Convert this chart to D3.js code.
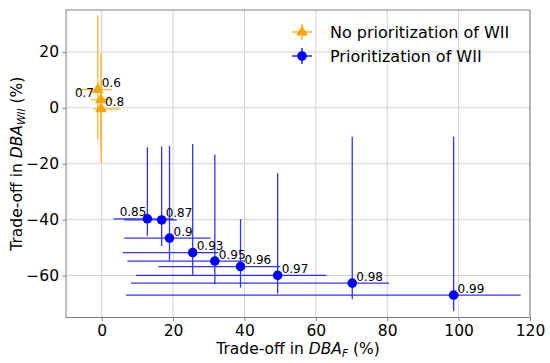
<!DOCTYPE html>
<html>
<head>
<meta charset="utf-8">
<script src="https://cdn.jsdelivr.net/npm/d3@7"></script>
<style>
  body { margin: 0; background: #fff; }
  text { font-family: "DejaVu Sans", sans-serif; fill: #000; }
</style>
</head>
<body>
<div class="chart"></div>
<script>
  // orange series: no prioritization of WII
  var noPrioLabels = ["0.6", "0.7", "0.8"],
      noPrioX = [-1.1, -0.2, -0.2],
      noPrioY = [6.5, 2.9, -0.4],
      noPrioXLo = [-7.0, -3.2, -2.4],
      noPrioXHi = [2.8, 3.2, 5.2],
      noPrioYLo = [-11.7, -15.0, -19.6],
      noPrioYHi = [33.1, 19.5, 9.8];

  // blue series: prioritization of WII
  var prioLabels = ["0.85", "0.87", "0.9", "0.93", "0.95", "0.96", "0.97", "0.98", "0.99"],
      prioX = [12.8, 16.8, 19.0, 25.5, 31.7, 38.9, 49.3, 70.2, 98.6],
      prioY = [-39.7, -40.1, -46.6, -51.8, -54.8, -56.8, -59.9, -62.7, -67.0],
      prioXLo = [3.3, 6.3, 6.3, 5.9, 7.2, 15.9, 9.6, 8.2, 6.8],
      prioXHi = [20.0, 21.0, 30.5, 32.6, 40.2, 50.0, 62.9, 80.5, 117.4],
      prioYLo = [-45.8, -49.4, -54.7, -59.7, -63.1, -64.3, -66.4, -68.5, -72.7],
      prioYHi = [-14.1, -13.9, -13.6, -12.9, -16.7, -39.8, -23.4, -10.3, -10.3];

  // labels written to the left of their point
  var leftLabels = ["0.7", "0.85"];

  var xTicks = [0, 20, 40, 60, 80, 100, 120],
      yTicks = [-60, -40, -20, 0, 20];

  var margin = {top: 10, right: 20, bottom: 45.5, left: 66},
      width = 550 - margin.left - margin.right,
      height = 363 - margin.top - margin.bottom;

  var x = d3.scaleLinear().domain([-10, 120]).range([0, width]);
  var y = d3.scaleLinear().domain([-75, 35]).range([height, 0]);

  var svg = d3.select('.chart')
      .append('svg')
      .attr('width', 550)
      .attr('height', 363)
      .append('g')
      .attr('transform', 'translate(' + margin.left + ',' + margin.top + ')');

  // grid
  svg.append('g').selectAll('line')
      .data(xTicks)
      .enter().append('line')
      .attr('x1', function(d) { return x(d); })
      .attr('x2', function(d) { return x(d); })
      .attr('y1', 0).attr('y2', height)
      .attr('stroke', '#d3d3d3').attr('stroke-width', 1);

  svg.append('g').selectAll('line')
      .data(yTicks)
      .enter().append('line')
      .attr('y1', function(d) { return y(d); })
      .attr('y2', function(d) { return y(d); })
      .attr('x1', 0).attr('x2', width)
      .attr('stroke', '#d3d3d3').attr('stroke-width', 1);

  function toRows(labels, xs, ys, xlo, xhi, ylo, yhi) {
    return labels.map(function(l, i) {
      return {label: l, x: xs[i], y: ys[i], xlo: xlo[i], xhi: xhi[i], ylo: ylo[i], yhi: yhi[i]};
    });
  }

  var noPrio = toRows(noPrioLabels, noPrioX, noPrioY, noPrioXLo, noPrioXHi, noPrioYLo, noPrioYHi);
  var prio = toRows(prioLabels, prioX, prioY, prioXLo, prioXHi, prioYLo, prioYHi);

  function drawBars(rows, color) {
    var g = svg.append('g').attr('stroke', color).attr('stroke-width', 1.3).attr('opacity', 0.8);
    g.selectAll('.v').data(rows).enter().append('line')
        .attr('x1', function(d) { return x(d.x); })
        .attr('x2', function(d) { return x(d.x); })
        .attr('y1', function(d) { return y(d.ylo); })
        .attr('y2', function(d) { return y(d.yhi); });
    g.selectAll('.h').data(rows).enter().append('line')
        .attr('y1', function(d) { return y(d.y); })
        .attr('y2', function(d) { return y(d.y); })
        .attr('x1', function(d) { return x(d.xlo); })
        .attr('x2', function(d) { return x(d.xhi); });
  }

  function drawLabels(rows) {
    svg.append('g').selectAll('text')
        .data(rows)
        .enter().append('text')
        .attr('x', function(d) { return x(d.x) + (leftLabels.indexOf(d.label) >= 0 ? (d.label == '0.7' ? -7 : -1) : 4); })
        .attr('y', function(d) { return y(d.y) - 2.5; })
        .attr('text-anchor', function(d) { return leftLabels.indexOf(d.label) >= 0 ? 'end' : 'start'; })
        .style('font-size', '12px')
        .text(function(d) { return d.label; });
  }

  var triangle = d3.symbol().type(d3.symbolTriangle).size(60);

  drawBars(prio, 'blue');
  drawBars(noPrio, 'orange');

  svg.append('g').selectAll('circle')
      .data(prio)
      .enter().append('circle')
      .attr('cx', function(d) { return x(d.x); })
      .attr('cy', function(d) { return y(d.y); })
      .attr('r', 4.8)
      .attr('fill', 'blue');

  svg.append('g').selectAll('path')
      .data(noPrio)
      .enter().append('path')
      .attr('d', triangle)
      .attr('transform', function(d) { return 'translate(' + x(d.x) + ',' + y(d.y) + ')'; })
      .attr('fill', 'orange');

  drawLabels(prio);
  drawLabels(noPrio);

  // axes
  var xAxis = d3.axisBottom(x).tickValues(xTicks).tickSize(3.5).tickPadding(3.5);
  var yAxis = d3.axisLeft(y).tickValues(yTicks).tickSize(3.5).tickPadding(3.5)
      .tickFormat(function(d) { return d < 0 ? '\u2212' + Math.abs(d) : d; });

  var gx = svg.append('g')
      .attr('transform', 'translate(0,' + height + ')')
      .call(xAxis);
  var gy = svg.append('g').call(yAxis);

  [gx, gy].forEach(function(g) {
    g.select('.domain').remove();
    g.selectAll('line').attr('stroke', '#808080');
    g.selectAll('text').style('font-size', '15.5px').attr('fill', '#000');
  });

  // frame
  svg.append('rect')
      .attr('width', width).attr('height', height)
      .attr('fill', 'none').attr('stroke', '#808080').attr('stroke-width', 1);

  // axis titles
  var xt = svg.append('text')
      .attr('x', width / 2)
      .attr('y', height + 36)
      .attr('text-anchor', 'middle')
      .style('font-size', '15.5px');
  xt.append('tspan').text('Trade-off in ');
  xt.append('tspan').style('font-style', 'italic').text('DBA');
  xt.append('tspan').style('font-style', 'italic').style('font-size', '10.5px').attr('dy', 3.5).text('F');
  xt.append('tspan').attr('dy', -3.5).text(' (%)');

  var yt = svg.append('text')
      .attr('transform', 'translate(' + (21.5 - margin.left) + ',' + (height / 2) + ') rotate(-90)')
      .attr('text-anchor', 'middle')
      .style('font-size', '15.5px');
  yt.append('tspan').text('Trade-off in ');
  yt.append('tspan').style('font-style', 'italic').text('DBA');
  yt.append('tspan').style('font-style', 'italic').style('font-size', '10.5px').attr('dy', 3.5).text('WII');
  yt.append('tspan').attr('dy', -3.5).text(' (%)');

  // legend
  var legendItems = [
    {name: 'No prioritization of WII', color: 'orange', shape: 'tri'},
    {name: 'Prioritization of WII', color: 'blue', shape: 'dot'}
  ];
  var legend = svg.append('g')
      .attr('transform', 'translate(' + (302 - margin.left) + ',' + (32 - margin.top) + ')');
  var li = legend.selectAll('g')
      .data(legendItems)
      .enter().append('g')
      .attr('transform', function(d, i) { return 'translate(0,' + (i * 24) + ')'; });
  li.append('line').attr('x1', -10).attr('x2', 10).attr('y1', 0).attr('y2', 0)
      .attr('stroke', function(d) { return d.color; }).attr('stroke-width', 1.3);
  li.append('line').attr('x1', 0).attr('x2', 0).attr('y1', -8).attr('y2', 8)
      .attr('stroke', function(d) { return d.color; }).attr('stroke-width', 1.3);
  li.append('path')
      .attr('d', function(d) { return d.shape == 'tri' ? triangle() : d3.symbol().type(d3.symbolCircle).size(72)(); })
      .attr('fill', function(d) { return d.color; });
  li.append('text')
      .attr('x', 28)
      .attr('y', 5.8)
      .style('font-size', '16px')
      .text(function(d) { return d.name; });
</script>
</body>
</html>
